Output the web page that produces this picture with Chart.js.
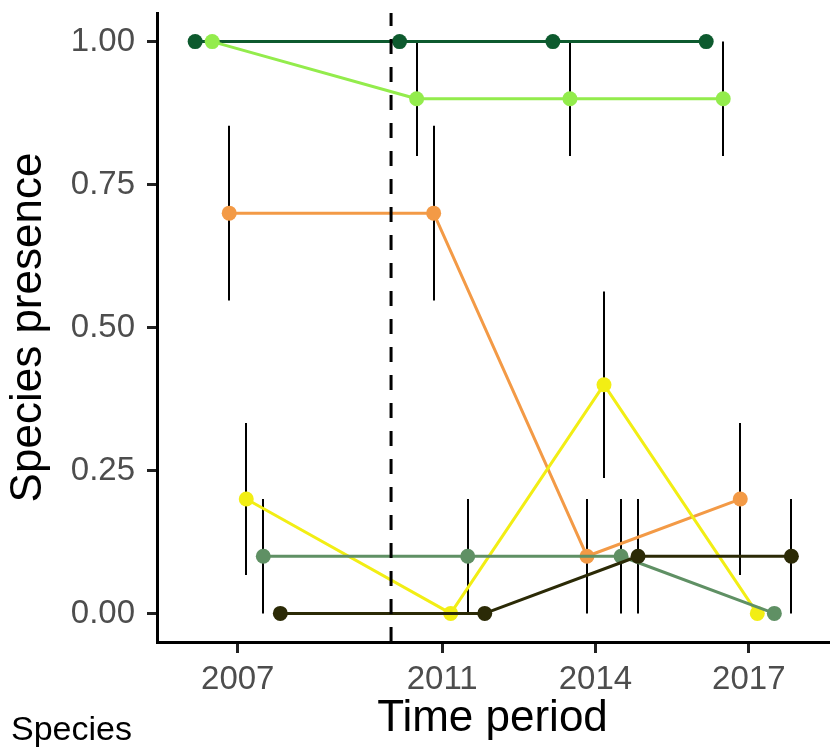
<!DOCTYPE html>
<html>
<head>
<meta charset="utf-8">
<script src="https://cdn.jsdelivr.net/npm/chart.js@4.4.1/dist/chart.umd.min.js"></script>
<style>
  html, body { margin: 0; padding: 0; background: #fff; }
  #wrap { width: 833px; height: 750px; }
</style>
</head>
<body>
<div id="wrap"><canvas id="presenceChart" width="833" height="750"></canvas></div>
<script>
// time periods on the x axis
var years = [2007, 2011, 2014, 2017];
var yTicks = [0, 0.25, 0.5, 0.75, 1];
var breakYear = 2010;

// presence per species (in dodge order) and the half length of its error bar
var sp1 = [1, 1, 1, 1];
var sp1Err = [0, 0, 0, 0];
var sp2 = [1, 0.9, 0.9, 0.9];
var sp2Err = [0, 0.1, 0.1, 0.1];
var sp3 = [0.7, 0.7, 0.1, 0.2];
var sp3Err = [0.153, 0.153, 0.1, 0.133];
var sp4 = [0.2, 0, 0.4, 0];
var sp4Err = [0.133, 0, 0.163, 0];
var sp5 = [0.1, 0.1, 0.1, 0];
var sp5Err = [0.1, 0.1, 0.1, 0];
var sp6 = [0, 0, 0.1, 0.1];
var sp6Err = [0, 0, 0.1, 0.1];

var speciesNames = ['Species 1', 'Species 2', 'Species 3', 'Species 4', 'Species 5', 'Species 6'];
var speciesColors = ['#0d5a2e', '#93ec4c', '#f39a46', '#f2ee14', '#5f9064', '#2b2a06'];

var values = [sp1, sp2, sp3, sp4, sp5, sp6];
var errors = [sp1Err, sp2Err, sp3Err, sp4Err, sp5Err, sp6Err];

var dodgeWidth = 2;
var fontFamily = '"Liberation Sans", Arial, sans-serif';

function buildDatasets(){
    var n = values.length;
    var out = [];
    for (var i = 0; i < n; i++){
        var shift = (i - (n - 1) / 2) * dodgeWidth / n;
        var pts = [];
        for (var j = 0; j < years.length; j++){
            pts.push({x: years[j] + shift, y: values[i][j], err: errors[i][j]});
        }
        out.push({
            label: speciesNames[i],
            data: pts,
            borderColor: speciesColors[i],
            backgroundColor: speciesColors[i],
            pointBackgroundColor: speciesColors[i],
            pointBorderWidth: 0,
            pointRadius: 7.5,
            borderWidth: 3,
            tension: 0,
            fill: false,
            order: n - i
        });
    }
    return out;
}

var extras = {
    id: 'extras',
    beforeDatasetsDraw: function(chart){
        var ctx = chart.ctx;
        var xs = chart.scales.x, ys = chart.scales.y;
        ctx.save();
        ctx.strokeStyle = '#000';
        ctx.lineWidth = 2;
        chart.data.datasets.forEach(function(ds){
            ds.data.forEach(function(p){
                if (!p.err) return;
                var px = Math.round(xs.getPixelForValue(p.x));
                ctx.beginPath();
                ctx.moveTo(px, ys.getPixelForValue(p.y + p.err));
                ctx.lineTo(px, ys.getPixelForValue(p.y - p.err));
                ctx.stroke();
            });
        });
        ctx.restore();
    },
    afterDatasetsDraw: function(chart){
        var ctx = chart.ctx;
        var area = chart.chartArea;
        var bx = chart.scales.x.getPixelForValue(breakYear);
        ctx.save();
        ctx.strokeStyle = '#000';
        ctx.lineWidth = 3;
        ctx.setLineDash([15, 13]);
        ctx.beginPath();
        ctx.moveTo(bx, area.bottom);
        ctx.lineTo(bx, area.top);
        ctx.stroke();
        ctx.restore();
    },
    afterDraw: function(chart){
        var ctx = chart.ctx;
        ctx.save();
        ctx.fillStyle = '#000';
        ctx.font = '34px ' + fontFamily;
        ctx.textBaseline = 'alphabetic';
        ctx.textAlign = 'left';
        ctx.fillText('Species', 11, 740);
        ctx.restore();
    }
};

var ctx = document.getElementById('presenceChart').getContext('2d');
var chart = new Chart(ctx, {
    type: 'line',
    data: { datasets: buildDatasets() },
    plugins: [extras],
    options: {
        responsive: false,
        animation: false,
        maintainAspectRatio: false,
        layout: { autoPadding: false, padding: { left: 0, right: 5, top: 13, bottom: 0 } },
        plugins: { legend: { display: false }, tooltip: { enabled: false } },
        elements: { line: { borderCapStyle: 'round', borderJoinStyle: 'round' } },
        scales: {
            x: {
                type: 'linear',
                min: 2005.42,
                max: 2018.55,
                afterBuildTicks: function(scale){
                    scale.ticks = years.map(function(v){ return {value: v}; });
                },
                afterFit: function(scale){
                    scale.height = 108;
                    scale.paddingLeft = 0; scale.paddingRight = 0;
                },
                border: { display: true, color: '#000', width: 3 },
                grid: { drawOnChartArea: false, drawTicks: true, tickLength: 11, tickColor: '#222', lineWidth: 3 },
                ticks: {
                    color: '#4d4d4d',
                    padding: 7,
                    maxRotation: 0,
                    autoSkip: false,
                    font: { family: fontFamily, size: 33 },
                    callback: function(v){ return String(v); }
                },
                title: {
                    display: true,
                    text: 'Time period',
                    color: '#000',
                    font: { family: fontFamily, size: 44 },
                    padding: { top: 0, bottom: 5 }
                }
            },
            y: {
                type: 'linear',
                min: -0.05,
                max: 1.05,
                afterBuildTicks: function(scale){
                    scale.ticks = yTicks.map(function(v){ return {value: v}; });
                },
                afterFit: function(scale){
                    scale.width = 157;
                    scale.paddingTop = 0; scale.paddingBottom = 0;
                },
                border: { display: true, color: '#000', width: 3 },
                grid: { drawOnChartArea: false, drawTicks: true, tickLength: 10, tickColor: '#222', lineWidth: 3 },
                ticks: {
                    color: '#4d4d4d',
                    padding: 12,
                    autoSkip: false,
                    font: { family: fontFamily, size: 33 },
                    callback: function(v){ return v.toFixed(2); }
                },
                title: {
                    display: true,
                    text: 'Species presence',
                    color: '#000',
                    font: { family: fontFamily, size: 44 },
                    padding: { top: 2, bottom: 0 }
                }
            }
        }
    }
});
</script>
</body>
</html>
